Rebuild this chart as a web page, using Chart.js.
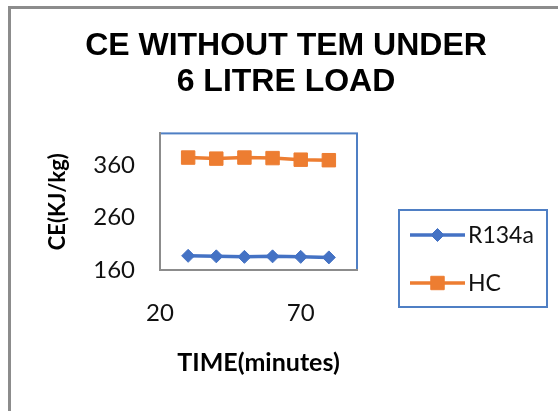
<!DOCTYPE html>
<html>
<head>
<meta charset="utf-8">
<script src="https://cdn.jsdelivr.net/npm/chart.js@4/dist/chart.umd.min.js"></script>
<style>
  html, body { margin: 0; padding: 0; background: #fff; overflow: hidden; }
  #frame {
    position: absolute; left: 8px; top: 6px; width: 600px; height: 450px;
    border-left: 3px solid #8c8c8c; border-top: 3px solid #8c8c8c;
  }
  #chart { position: absolute; left: 0; top: 0; }
</style>
</head>
<body>
<div id="frame"><canvas id="chart" width="550" height="402"></canvas></div>
<script>
const times = [30, 40, 50, 60, 70, 80];
const r134a = [187, 186, 185, 186, 185, 184];
const hc = [374, 372, 374, 373, 370, 369];
const xTicks = [20, 70];
const yTicks = [160, 260, 360];
const titleLines = ['CE WITHOUT TEM UNDER', '6 LITRE LOAD'];

const BLUE = '#4472c4';
const ORANGE = '#ed7d31';
const BOX = '#4f7fc4';

function points(ys) {
  return times.map((t, i) => ({x: t, y: ys[i]}));
}

// blue frame round the plot area
const plotFrame = {
  id: 'plotFrame',
  beforeDraw(chart) {
    let a = chart.chartArea, ctx = chart.ctx;
    ctx.save();
    ctx.strokeStyle = BOX;
    ctx.lineWidth = 2;
    ctx.strokeRect(a.left, a.top, a.right - a.left, a.bottom - a.top);
    ctx.restore();
  }
};

// legend with a line + marker sample, in a blue box
const boxLegend = {
  id: 'boxLegend',
  afterDraw(chart) {
    let ctx = chart.ctx;
    ctx.save();
    ctx.strokeStyle = BOX;
    ctx.lineWidth = 2;
    ctx.strokeRect(388, 201, 148, 97);
    chart.data.datasets.forEach((ds, i) => {
      let y = 226 + i * 48;
      ctx.strokeStyle = ds.borderColor;
      ctx.lineWidth = ds.borderWidth;
      ctx.beginPath();
      ctx.moveTo(399, y);
      ctx.lineTo(454, y);
      ctx.stroke();
      ctx.fillStyle = ds.backgroundColor;
      ctx.strokeStyle = ds.borderColor;
      ctx.lineWidth = 1;
      Chart.helpers.drawPoint(ctx, {pointStyle: ds.pointStyle, radius: ds.pointRadius, borderWidth: 1}, 426.5, y);
      ctx.fillStyle = '#111';
      ctx.font = '23px Lato';
      ctx.textBaseline = 'middle';
      ctx.textAlign = 'left';
      ctx.fillText(ds.label, 457, y + 1);
    });
    ctx.restore();
  }
};

new Chart(document.getElementById('chart'), {
  type: 'line',
  data: {
    datasets: [
      {
        label: 'R134a', data: points(r134a),
        borderColor: BLUE, backgroundColor: BLUE, borderWidth: 3.5,
        pointStyle: 'rectRot', pointRadius: 6.5, pointBorderWidth: 1
      },
      {
        label: 'HC', data: points(hc),
        borderColor: ORANGE, backgroundColor: ORANGE, borderWidth: 3.5,
        pointStyle: 'rect', pointRadius: 9.5, pointBorderWidth: 1
      }
    ]
  },
  options: {
    responsive: false,
    animation: false,
    layout: {padding: 0},
    plugins: {
      legend: {display: false},
      tooltip: {enabled: false},
      title: {
        display: true,
        text: titleLines,
        color: '#000',
        font: {family: 'Liberation Sans', size: 32, weight: 'bold', lineHeight: 1.1},
        padding: {top: 20, bottom: 34}
      }
    },
    scales: {
      x: {
        type: 'linear', min: 20, max: 90,
        afterBuildTicks: s => { s.ticks = xTicks.map(v => ({value: v})); },
        afterFit: s => { s.height = 141; },
        grid: {display: false, drawTicks: false},
        border: {display: true, color: '#8c8c8c', width: 2},
        ticks: {color: '#111', padding: 29, font: {family: 'Lato', size: 24}},
        title: {
          display: true, text: 'TIME(minutes)', color: '#000',
          font: {family: 'Lato', size: 25, weight: 'bold'},
          padding: {top: 0, bottom: 33}
        }
      },
      y: {
        min: 160, max: 420,
        afterBuildTicks: s => { s.ticks = yTicks.map(v => ({value: v})); },
        afterFit: s => { s.width = 149; },
        grid: {display: false, drawTicks: false},
        border: {display: true, color: '#8c8c8c', width: 2},
        ticks: {color: '#111', padding: 25, font: {family: 'Lato', size: 24}},
        title: {
          display: true, text: 'CE(KJ/kg)', color: '#000',
          font: {family: 'Lato', size: 22, weight: 'bold'},
          padding: {top: 34, bottom: 0}
        }
      },
      right: {
        position: 'right', display: true,
        afterFit: s => { s.width = 204; },
        grid: {display: false, drawTicks: false},
        border: {display: false},
        ticks: {display: false}
      }
    }
  },
  plugins: [plotFrame, boxLegend]
});
</script>
</body>
</html>
